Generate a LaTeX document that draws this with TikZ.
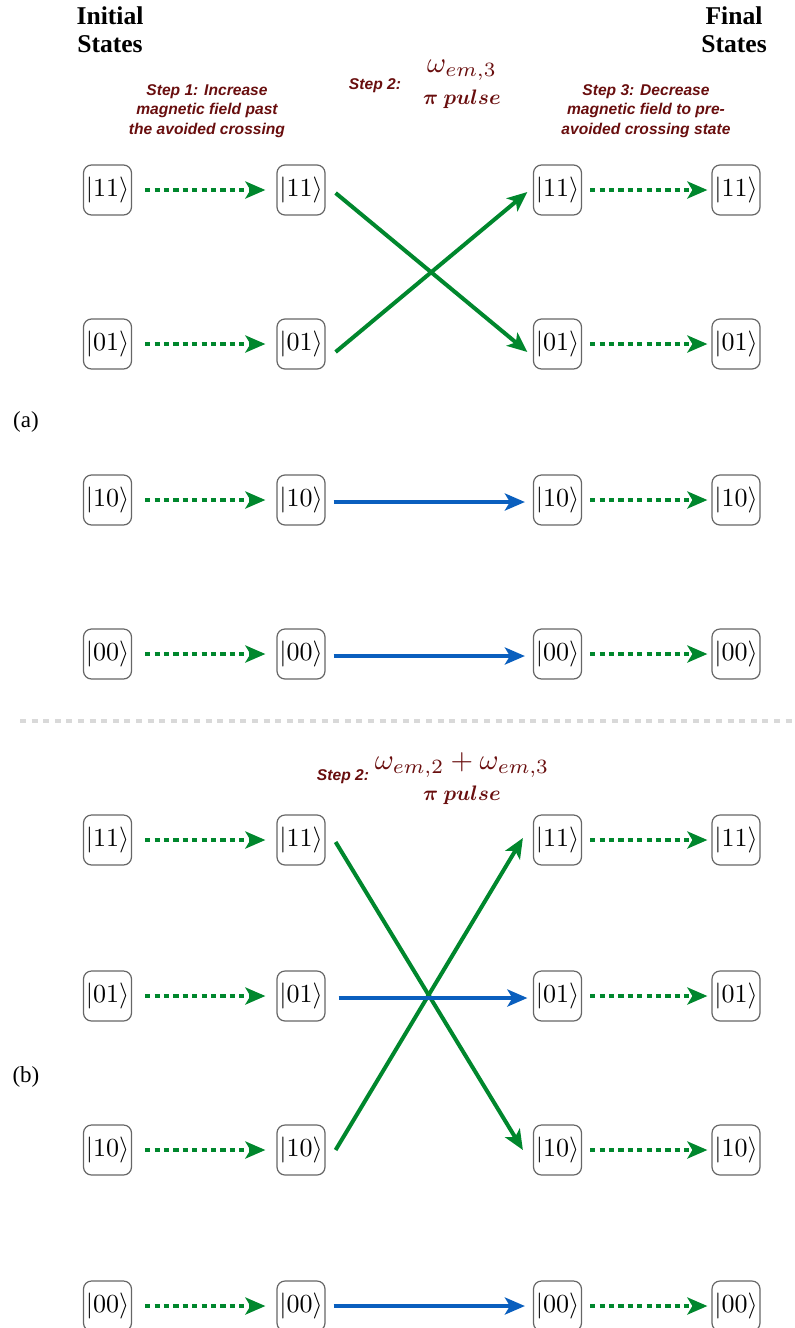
\documentclass[tikz,border=0pt]{standalone}
\usepackage{amsmath}
\usepackage{graphicx}
\usepackage[no-math]{fontspec}
\setmainfont{Liberation Serif}
\newfontfamily\stepfont{Liberation Sans}
\usetikzlibrary{arrows.meta}
\definecolor{sgreen}{RGB}{0,135,45}
\definecolor{sblue}{RGB}{10,95,190}
\definecolor{sred}{RGB}{105,14,14}
\newcommand{\ket}[1]{\scalebox{1.3}{$|#1\rangle$}}
\tikzset{
  st/.style={draw=black!60, line width=0.6pt, rounded corners=4pt, minimum width=24pt, minimum height=25pt, inner sep=0.5pt, font=\fontsize{10}{10}\selectfont},
  tip/.style={-{Stealth[length=10pt,width=8.5pt,inset=2.5pt]}},
  dotarr/.style={tip, draw=sgreen, line width=2pt, dash pattern=on 2.6pt off 2.1pt},
  garr/.style={tip, draw=sgreen, line width=2pt},
  barr/.style={tip, draw=sblue, line width=2pt},
  head/.style={font=\bfseries\fontsize{12.8}{14}\selectfont, align=center},
  steptxt/.style={font=\stepfont\bfseries\itshape\fontsize{7.8}{9.6}\selectfont, text=sred, align=center},
  omega/.style={text=sred, font=\fontsize{10}{12}\selectfont, inner sep=0pt},
  pulse/.style={text=sred, font=\fontsize{10}{12}\selectfont, inner sep=0pt},
  lab/.style={font=\fontsize{11.5}{13}\selectfont}
}
\begin{document}
\begin{tikzpicture}[x=0.5pt,y=-0.5pt]
\useasboundingbox (0,0) rectangle (795,1328);
% headers
\node[head] (hinit) at (110,30) {Initial\\States};
\node[head] (hfinal) at (734,30) {Final\\States};
\node[steptxt] (s1) at (207,111) {Step 1: Increase\\magnetic field past\\the avoided crossing};
\node[steptxt] (s3) at (646,111) {Step 3: Decrease\\magnetic field to pre-\\avoided crossing state};
\node[steptxt] (s2a) at (375,86) {Step 2:};
\node[omega] (wa) at (462,70) {\scalebox{1.45}{$\omega_{em,3}$}};
\node[pulse] (pa) at (462,99) {\scalebox{1.05}{$\boldsymbol{\pi\ pulse}$}};
\node[steptxt] (s2b) at (343,777) {Step 2:};
\node[omega] (wb) at (462,765) {\scalebox{1.45}{$\omega_{em,2}+\omega_{em,3}$}};
\node[pulse] (pb) at (462,795) {\scalebox{1.05}{$\boldsymbol{\pi\ pulse}$}};
\node[lab] (la) at (26,422) {(a)};
\node[lab] (lb) at (26,1077) {(b)};
% separator
\coordinate (sepL) at (20,721);
\coordinate (sepR) at (795,721);
\draw[black!15, line width=2pt, dash pattern=on 3pt off 2.8pt] (sepL) -- (sepR);
% (a) nodes
\foreach \lbl/\y in {11/190,01/344,10/500,00/654}{
  \node[st] (a1-\lbl) at (107.5,\y) {\ket{\lbl}};
  \node[st] (a2-\lbl) at (301,\y) {\ket{\lbl}};
  \node[st] (a3-\lbl) at (557.5,\y) {\ket{\lbl}};
  \node[st] (a4-\lbl) at (736,\y) {\ket{\lbl}};
  \draw[dotarr, shorten <=6.5pt, shorten >=5.5pt] (a1-\lbl.east) -- (a2-\lbl.west);
  \draw[dotarr, shorten <=4pt, shorten >=2pt] (a3-\lbl.east) -- (a4-\lbl.west);
}
\foreach \lbl/\y in {11/840,01/996,10/1150,00/1306}{
  \node[st] (b1-\lbl) at (107.5,\y) {\ket{\lbl}};
  \node[st] (b2-\lbl) at (301,\y) {\ket{\lbl}};
  \node[st] (b3-\lbl) at (557.5,\y) {\ket{\lbl}};
  \node[st] (b4-\lbl) at (736,\y) {\ket{\lbl}};
  \draw[dotarr, shorten <=6.5pt, shorten >=5.5pt] (b1-\lbl.east) -- (b2-\lbl.west);
  \draw[dotarr, shorten <=4pt, shorten >=2pt] (b3-\lbl.east) -- (b4-\lbl.west);
}
% (a) step 2 connectors
\draw[garr] ([shift={(5pt,-1.5pt)}]a2-11.east) -- ([shift={(-2.75pt,-4pt)}]a3-01.west);
\draw[garr] ([shift={(5pt,-4pt)}]a2-01.east) -- ([shift={(-2.75pt,-1pt)}]a3-11.west);
\draw[barr] ([shift={(4pt,-1pt)}]a2-10.east) -- ([shift={(-4pt,-1pt)}]a3-10.west);
\draw[barr] ([shift={(4pt,-1pt)}]a2-00.east) -- ([shift={(-4pt,-1pt)}]a3-00.west);
% (b) step 2 connectors
\draw[garr] ([shift={(5pt,-1pt)}]b2-11.east) -- ([shift={(-5pt,0pt)}]b3-10.west);
\draw[garr] ([shift={(5pt,0pt)}]b2-10.east) -- ([shift={(-5pt,1pt)}]b3-11.west);
\draw[barr] ([shift={(6.5pt,-1pt)}]b2-01.east) -- ([shift={(-2.75pt,-1pt)}]b3-01.west);
\draw[barr] ([shift={(4pt,0pt)}]b2-00.east) -- ([shift={(-4pt,0pt)}]b3-00.west);
\end{tikzpicture}
\end{document}
